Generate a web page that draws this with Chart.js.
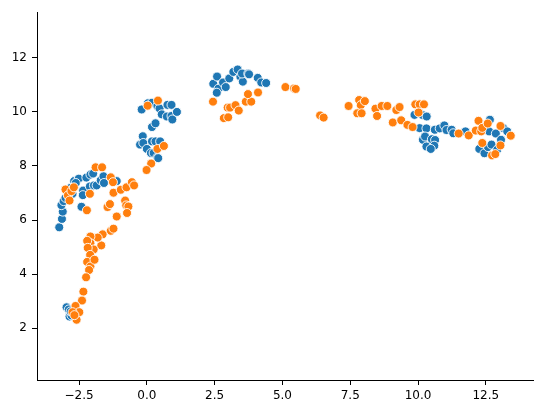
<!DOCTYPE html>
<html>
<head>
<meta charset="utf-8">
<script src="https://cdn.jsdelivr.net/npm/chart.js@4.4.1/dist/chart.umd.min.js"></script>
<style>
  html, body { margin: 0; padding: 0; background: #fff; }
  #wrap { width: 543px; height: 413px; }
</style>
</head>
<body>
<div id="wrap"><canvas id="chart"></canvas></div>
<script>
// Two groups of embedded points
const groupNames = ['0', '1'];

const blueX = [-3.23, -3.13, -3.10, -3.15, -3.07, -3.00, -2.91, -2.74, -2.81, -2.68, -2.51, -2.35, -2.41, -2.23, -2.08, -1.98, -2.10, -1.95, -1.85, -1.70, -1.60, -1.58, -2.62, -2.36, -1.11,
    -2.96, -2.88, -2.85, -2.78, -2.81,
    -0.19, 0.04, 0.19, 0.39, 0.47, 0.55, 0.76, 0.91, 0.74, 0.91, 0.94, 1.11, 0.19, 0.32,
    -0.25, -0.15, -0.13, 0.00, 0.19, 0.32, 0.49, 0.15, 0.25, 0.39, 0.42,
    2.45, 2.59, 2.64, 2.58, 2.81, 2.91, 3.04, 3.19, 3.35, 3.45, 3.54, 3.51, 3.74, 3.77, 4.09, 4.22, 4.40,
    9.87, 10.16, 10.32, 10.06, 10.31, 10.18, 10.26, 10.31, 10.51, 10.63, 10.60, 10.47,
    10.62, 10.80, 10.97, 11.05, 11.24, 11.30, 11.75,
    12.26, 12.45, 12.58, 12.65, 12.62, 12.71, 12.87, 12.92, 13.06, 13.15, 13.29];
const blueY = [5.73, 6.04, 6.31, 6.55, 6.70, 6.82, 6.94, 6.97, 7.19, 7.44, 7.53, 7.09, 6.49, 7.57, 7.68, 7.72, 7.24, 7.28, 7.28, 7.47, 7.62, 7.37, 7.37, 6.92, 7.44,
    2.77, 2.69, 2.43, 2.47, 2.62,
    10.09, 10.32, 10.34, 10.22, 10.13, 9.91, 10.26, 10.26, 9.83, 9.85, 9.72, 10.00, 9.44, 9.58,
    8.79, 9.10, 8.85, 8.63, 8.91, 8.91, 8.91, 8.48, 8.48, 8.32, 8.29,
    11.04, 11.31, 10.86, 10.71, 11.09, 10.92, 11.24, 11.48, 11.57, 11.30, 11.12, 11.42, 11.42, 11.39, 11.26, 11.09, 11.07,
    9.89, 9.89, 9.83, 9.40, 9.39, 8.97, 9.09, 8.72, 8.99, 8.96, 8.75, 8.63,
    9.34, 9.39, 9.50, 9.33, 9.34, 9.21, 9.28,
    8.63, 8.47, 8.70, 9.71, 9.28, 8.79, 9.20, 8.60, 8.97, 9.40, 9.28];

const orangeX = [-3.00, -2.91, -2.85, -2.78, -2.69, -2.10, -2.21, -1.89, -1.65, -1.33, -1.25, -1.23, -0.96, -0.75, -0.55, -0.47, -0.80, -0.76, -0.68, -0.73, -1.11, -1.45, -1.36,
    -1.33, -1.23, -1.63, -1.68, -1.81, -2.08, -2.08, -2.20, -1.96, -2.18, -2.09, -2.20, -2.08, -2.13, -1.93, -2.24, -2.34, -2.39, -2.63, -2.49, -2.74, -2.59, -2.67,
    0.03, 0.41, 0.39, 0.63, 0.16, -0.01,
    2.44, 2.84, 3.00, 2.98, 3.07, 3.27, 3.39, 3.65, 3.85, 3.73, 4.10,
    5.11, 5.43, 5.49, 6.39, 6.52,
    7.44, 7.83, 7.89, 7.76, 7.92, 8.04, 8.43, 8.49, 8.66, 8.87, 9.20, 9.32, 9.07, 9.38, 9.61, 9.80, 9.90, 10.06, 10.22, 10.02,
    11.50, 11.87, 12.13,
    12.23, 12.33, 12.37, 12.37, 12.57, 12.73, 12.85, 13.04, 13.04, 13.42];
const orangeY = [7.13, 6.91, 6.72, 7.07, 7.21, 6.97, 6.36, 7.95, 7.95, 7.58, 7.40, 7.01, 7.12, 7.21, 7.40, 7.28, 6.72, 6.54, 6.50, 6.26, 6.13, 6.48, 6.59,
    5.60, 5.68, 5.47, 5.06, 5.35, 5.39, 5.14, 5.23, 4.91, 4.97, 4.71, 4.45, 4.28, 4.15, 4.53, 3.88, 3.35, 3.02, 2.82, 2.59, 2.59, 2.31, 2.48,
    10.23, 10.42, 8.63, 8.74, 8.09, 7.85,
    10.38, 9.77, 9.80, 10.16, 10.16, 10.25, 10.05, 10.38, 10.38, 10.66, 10.72,
    10.92, 10.87, 10.85, 9.87, 9.79,
    10.22, 10.44, 10.25, 9.95, 9.95, 10.40, 10.12, 9.85, 10.22, 10.22, 10.07, 10.18, 9.61, 9.69, 9.52, 9.44, 10.28, 10.28, 10.28, 9.98,
    9.20, 9.13, 9.31,
    9.67, 9.28, 8.85, 9.41, 9.57, 8.39, 8.44, 9.48, 8.76, 9.12];

const xTicks = [-2.5, 0.0, 2.5, 5.0, 7.5, 10.0, 12.5];
const yTicks = [2, 4, 6, 8, 10, 12];

function toPoints(xs, ys) {
    return xs.map((x, i) => ({ x: x, y: ys[i] }));
}

const fontSpec = { family: 'DejaVu Sans', size: 12 };

const axisStyle = {
    grid: {
        display: true,
        drawOnChartArea: false,
        drawTicks: true,
        tickLength: 5,
        color: '#000'
    },
    border: { display: true, color: '#000', width: 1 }
};

new Chart(document.getElementById('chart'), {
    type: 'scatter',
    data: {
        datasets: [{
            label: groupNames[0],
            data: toPoints(blueX, blueY),
            backgroundColor: '#1f77b4',
            borderColor: '#ffffff',
            borderWidth: 0.9,
            pointRadius: 4.5,
            order: 1
        }, {
            label: groupNames[1],
            data: toPoints(orangeX, orangeY),
            backgroundColor: '#ff7f0e',
            borderColor: '#ffffff',
            borderWidth: 0.9,
            pointRadius: 4.5,
            order: 0
        }]
    },
    options: {
        responsive: true,
        maintainAspectRatio: false,
        animation: false,
        layout: { padding: { top: 10, right: 10, left: 0, bottom: 0 } },
        plugins: {
            legend: { display: false },
            tooltip: { enabled: false }
        },
        scales: {
            x: {
                type: 'linear',
                min: -4.05,
                max: 14.24,
                ...axisStyle,
                afterBuildTicks: (axis) => { axis.ticks = xTicks.map(v => ({ value: v })); },
                afterFit: (axis) => { axis.height = 33; },
                ticks: {
                    color: '#000',
                    font: fontSpec,
                    padding: 4,
                    maxRotation: 0,
                    autoSkip: false,
                    callback: (v) => Number(v).toFixed(1).replace('-', '\u2212')
                }
            },
            y: {
                type: 'linear',
                min: 0.08,
                max: 13.69,
                ...axisStyle,
                afterBuildTicks: (axis) => { axis.ticks = yTicks.map(v => ({ value: v })); },
                afterFit: (axis) => { axis.width = 37; },
                ticks: {
                    color: '#000',
                    font: fontSpec,
                    padding: 5,
                    autoSkip: false,
                    callback: (v) => String(v)
                }
            }
        }
    }
});
</script>
</body>
</html>
